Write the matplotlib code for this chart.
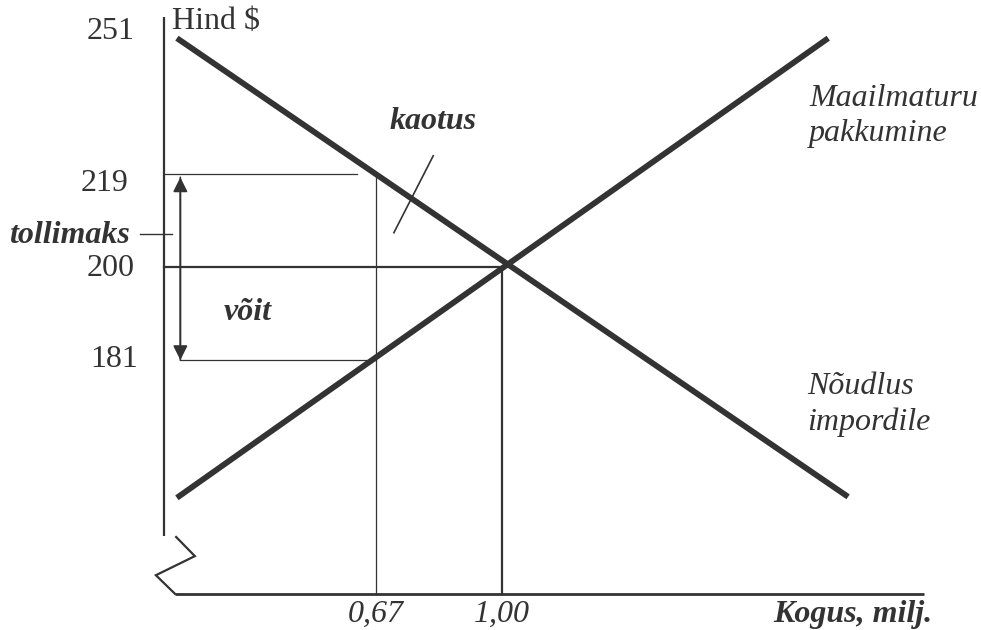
import matplotlib.pyplot as plt

# -----------------------------
# Data (price in $, quantity in mln)
# -----------------------------
price_ticks = [251, 219, 200, 181]
price_labels = ["251", "219", "200", "181"]
qty_ticks = [0.67, 1.00]
qty_labels = ["0,67", "1,00"]

world_price = 200
tariff_price = 219
import_price = 181
q_tariff = 0.67
q_free = 1.00

supply_q = [0.149, 1.854]
supply_p = [152.9, 246.7]
demand_q = [0.149, 1.906]
demand_p = [246.7, 153.1]

# axis geometry (quantity / price units)
axis_q = 0.115
axis_top = 251
axis_bottom = 145.1
base_p = 133.3
base_end_q = 2.105
break_q = [0.147, 0.196, 0.094, 0.144]
break_p = [144.9, 141.0, 137.1, 133.3]

INK = "#333333"
SERIF = "Liberation Serif"
FS = 23


def main() -> None:
    fig = plt.figure(figsize=(9.81, 6.30), dpi=100)
    ax = fig.add_axes([0, 0, 1, 1])
    ax.set_xlim(-0.3141, 2.2539)
    ax.set_ylim(125.92, 254.49)
    ax.axis("off")

    # -----------------------------
    # Axes with break
    # -----------------------------
    ax.plot([axis_q, axis_q], [axis_bottom, axis_top], color=INK, lw=1.6,
            solid_capstyle="butt")
    ax.plot(break_q, break_p, color=INK, lw=1.6, solid_joinstyle="miter")
    ax.plot([break_q[-1], base_end_q], [base_p, base_p], color=INK, lw=2.0,
            solid_capstyle="butt")

    # -----------------------------
    # Supply and demand
    # -----------------------------
    ax.plot(supply_q, supply_p, color=INK, lw=4.2, solid_capstyle="butt")
    ax.plot(demand_q, demand_p, color=INK, lw=4.2, solid_capstyle="butt")

    # -----------------------------
    # Guide lines
    # -----------------------------
    ax.plot([axis_q, 0.62], [tariff_price, tariff_price], color=INK, lw=0.9)
    ax.plot([q_tariff, q_tariff], [tariff_price, base_p], color=INK, lw=0.9)
    ax.plot([0.158, q_tariff], [import_price, import_price], color=INK, lw=0.9)
    ax.plot([axis_q, q_free], [world_price, world_price], color=INK, lw=1.6)
    ax.plot([q_free, q_free], [world_price, base_p], color=INK, lw=1.6)

    # tariff double arrow
    ax.annotate("", xy=(0.158, tariff_price - 0.7), xytext=(0.158, import_price),
                arrowprops=dict(arrowstyle="-|>", color=INK, lw=1.2,
                                mutation_scale=22, shrinkA=0, shrinkB=0))
    ax.annotate("", xy=(0.158, import_price), xytext=(0.158, tariff_price - 0.7),
                arrowprops=dict(arrowstyle="-|>", color=INK, lw=1.2,
                                mutation_scale=22, shrinkA=0, shrinkB=0))

    # tollimaks pointer and kaotus pointer
    ax.plot([0.052, 0.136], [206.7, 206.7], color=INK, lw=1.0)
    ax.plot([0.82, 0.717], [222.7, 207.0], color=INK, lw=1.2)

    # -----------------------------
    # Text
    # -----------------------------
    tick_y = [248.0, 217.0, 199.6, 181.2]
    tick_x = [0.039, 0.021, 0.039, 0.047]
    for label, x, y in zip(price_labels, tick_x, tick_y):
        ax.text(x, y, label, ha="right", va="center", fontsize=FS,
                family=SERIF, color=INK)

    for label, q in zip(qty_labels, qty_ticks):
        ax.text(q, 129.2, label, ha="center", va="center", fontsize=FS,
                family=SERIF, style="italic", color=INK)

    ax.text(2.126, 129.0, "Kogus, milj.", ha="right", va="center", fontsize=FS,
            family=SERIF, style="italic", weight="bold", color=INK)
    ax.text(0.136, 250.2, "Hind $", ha="left", va="center", fontsize=FS,
            family=SERIF, color=INK)
    ax.text(0.026, 206.4, "tollimaks", ha="right", va="center", fontsize=FS,
            family=SERIF, style="italic", weight="bold", color=INK)
    ax.text(0.82, 229.6, "kaotus", ha="center", va="center", fontsize=FS,
            family=SERIF, style="italic", weight="bold", color=INK)
    ax.text(0.335, 190.8, "võit", ha="center", va="center", fontsize=FS,
            family=SERIF, style="italic", weight="bold", color=INK)
    ax.text(1.804, 230.9, "Maailmaturu\npakkumine", ha="left", va="center",
            fontsize=FS, family=SERIF, style="italic", color=INK,
            linespacing=1.28)
    ax.text(1.800, 171.9, "Nõudlus\nimpordile", ha="left", va="center",
            fontsize=FS, family=SERIF, style="italic", color=INK,
            linespacing=1.28)

    fig.savefig("out.png", dpi=100)


if __name__ == "__main__":
    main()
